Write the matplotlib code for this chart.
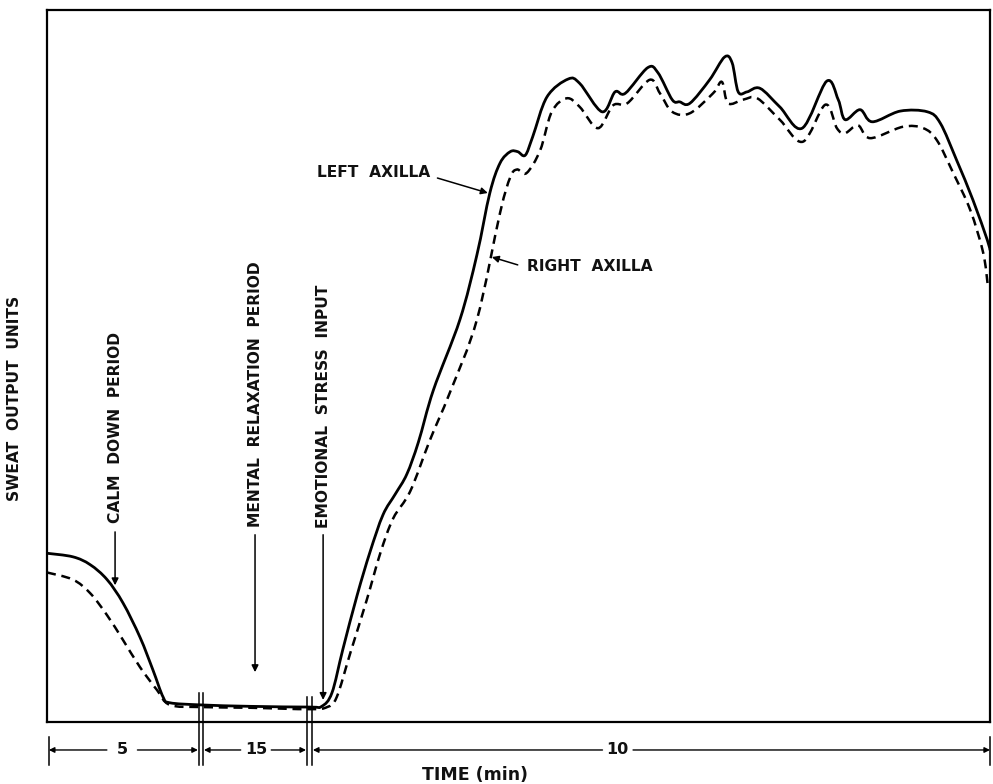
import numpy as np
import matplotlib
matplotlib.use("Agg")
import matplotlib.pyplot as plt
from matplotlib.scale import FuncScale
from matplotlib.path import Path
from matplotlib.patches import PathPatch

# Elapsed time (min) on a broken axis: 5 min calm down, 15 min relaxation, 10 min stress
seg_times = [0, 5, 20, 30]
seg_pos = [0, 154, 262.5, 943]  # relative drawing width of each period

# Left axilla (solid)
left_t = [0, 0.84, 1.40, 1.95, 2.47, 3.02, 3.44, 3.77, 3.99, 5.0, 11.77, 20.0,
          20.18, 20.33, 20.49, 20.70, 20.89, 21.08, 21.26, 21.43, 21.60, 21.82,
          22.21, 22.46, 22.65, 22.80, 22.95, 23.06, 23.17, 23.28, 23.49, 23.80,
          23.97, 24.30, 24.49, 24.64, 24.97, 25.12, 25.33, 25.44, 25.59, 25.88,
          26.10, 26.21, 26.30, 26.43, 26.62, 26.91, 27.24, 27.60, 27.77, 27.87,
          28.09, 28.27, 28.68, 29.08, 29.27, 29.51, 29.75, 29.96, 30.0]
left_v = [23.7, 23.2, 22.1, 20.0, 16.7, 11.9, 7.3, 3.5, 2.7, 2.4, 2.2, 2.1,
          2.2, 4.1, 10.2, 17.8, 23.9, 29.1, 32.0, 34.8, 39.3, 46.6,
          56.5, 65.6, 74.3, 78.5, 80.1, 80.1, 79.6, 82.2, 87.8, 90.3,
          89.7, 85.7, 88.5, 88.3, 91.9, 91.2, 87.4, 87.1, 86.9, 90.2,
          93.4, 92.6, 88.5, 88.5, 89.0, 86.4, 83.4, 90.0, 87.4, 84.6,
          86.0, 84.3, 85.8, 85.7, 84.1, 78.9, 73.3, 67.7, 66.3]

# Right axilla (dashed)
right_t = [0, 0.84, 1.40, 1.95, 2.47, 3.02, 3.57, 3.99, 5.0, 11.77, 20.0,
           20.26, 20.40, 20.60, 20.84, 21.04, 21.23, 21.48, 21.77, 22.06, 22.46,
           22.80, 22.95, 23.05, 23.19, 23.39, 23.56, 23.78, 23.97, 24.24, 24.46,
           24.67, 25.00, 25.15, 25.33, 25.59, 25.93, 26.06, 26.15, 26.37, 26.58,
           26.91, 27.25, 27.58, 27.75, 27.87, 28.06, 28.24, 28.72, 29.02, 29.22,
           29.46, 29.71, 29.90, 29.97]
right_v = [21.0, 20.0, 18.1, 15.0, 11.5, 7.7, 4.5, 2.4, 2.1, 2.0, 1.8,
           2.1, 3.5, 9.7, 17.1, 23.7, 28.6, 32.4, 39.6, 46.2, 56.5,
           71.5, 76.5, 77.6, 77.1, 80.3, 85.7, 87.6, 86.4, 83.4, 86.6,
           86.9, 90.2, 88.3, 85.7, 85.5, 88.3, 89.9, 86.9, 87.4, 87.6,
           84.6, 81.5, 86.7, 83.4, 82.7, 83.8, 82.0, 83.6, 83.4, 81.7,
           77.1, 71.9, 65.9, 61.1]

period_labels = ["5", "15", "10"]
period_label_t = [2.44, 12.6, 24.53]

FONT = ["DejaVu Sans"]


def fwd(t):
    return np.interp(t, seg_times, seg_pos)


def inv(p):
    return np.interp(p, seg_pos, seg_times)


Y_ASPECT = 7.12  # drawing units per y unit, keeps the curve rounding even


def smooth_path(t, v):
    """Bezier path through the readings (Catmull-Rom tangents)."""
    P = np.column_stack([fwd(np.asarray(t, float)), np.asarray(v, float) * Y_ASPECT])
    n = len(P)
    verts = [P[0]]
    codes = [Path.MOVETO]
    for i in range(n - 1):
        p0 = P[max(i - 1, 0)]
        p1 = P[i]
        p2 = P[i + 1]
        p3 = P[min(i + 2, n - 1)]
        verts += [p1 + (p2 - p0) / 6.0, p2 - (p3 - p1) / 6.0, p2]
        codes += [Path.CURVE4] * 3
    V = np.array(verts)
    V[:, 0] = inv(V[:, 0])
    V[:, 1] = V[:, 1] / Y_ASPECT
    return Path(V, codes)


fig = plt.figure(figsize=(9.93, 7.84), dpi=100)
ax = fig.add_axes([47 / 993, 62 / 784, 943 / 993, 712 / 784])
ax.set_xscale(FuncScale(ax, (fwd, inv)))
ax.set_xlim(0, 30)
ax.set_ylim(0, 100)
ax.set_xticks([])
ax.set_yticks([])
for s in ax.spines.values():
    s.set_linewidth(1.6)
    s.set_color("black")

ax.add_patch(PathPatch(smooth_path(left_t, left_v), fill=False, color="black",
                       lw=2.0, joinstyle="round", capstyle="round"))
ax.add_patch(PathPatch(smooth_path(right_t, right_v), fill=False, color="black",
                       lw=1.8, linestyle=(0, (3.6, 2.3))))

txt = dict(family=FONT, fontweight="bold", fontsize=11.2, color="#111111")
arrow = dict(arrowstyle="-|>", color="black", lw=1.1, mutation_scale=10,
             shrinkA=0, shrinkB=0)

# Vertical event labels with arrows
events = [("CALM  DOWN  PERIOD", 2.21, 27.95, 26.7, 19.2),
          ("MENTAL  RELAXATION  PERIOD", 12.47, 27.4, 26.3, 7.0),
          ("EMOTIONAL  STRESS  INPUT", 20.20, 27.3, 26.3, 3.1)]
for label, t, ytxt, y0, y1 in events:
    ax.text(t, ytxt, label, rotation=90, ha="center", va="bottom", **txt)
    ax.annotate("", xy=(t, y1), xytext=(t, y0), arrowprops=arrow)

# Series labels
ax.text(21.77, 77.2, "LEFT  AXILLA", ha="right", va="center", **txt)
ax.annotate("", xy=(22.62, 74.3), xytext=(21.88, 76.4), arrowprops=arrow)
ax.text(23.20, 64.0, "RIGHT  AXILLA", ha="left", va="center", **txt)
ax.annotate("", xy=(22.68, 65.3), xytext=(23.06, 64.2), arrowprops=arrow)

fig.text(15 / 993, 0.4923, "SWEAT  OUTPUT  UNITS", rotation=90,
         ha="center", va="center", **txt)

# Period bar beneath the axis
xt = ax.get_xaxis_transform()
bar_y = -0.0393
seg_ends = [(0.06, 4.90), (5.41, 19.52), (20.05, 30.0)]
num = dict(txt, fontsize=11.5)
for (a, b), lab, tm in zip(seg_ends, period_labels, period_label_t):
    for end in (a, b):
        ax.annotate("", xy=(end, bar_y), xytext=(tm, bar_y), xycoords=xt,
                    textcoords=xt,
                    arrowprops=dict(arrowstyle="-|>", color="black", lw=1.0,
                                    mutation_scale=8, shrinkA=11, shrinkB=0))
    ax.text(tm, bar_y, lab, transform=xt, ha="center", va="center", **num)

# End ticks of the period bar
for t in [0.06, 30.0]:
    ax.plot([t, t], [-0.021, -0.060], transform=xt, color="black", lw=1.1,
            clip_on=False)

# Axis breaks: double bars crossing the bottom of the frame
for t, top in [(4.935, 0.0407), (5.28, 0.0407), (19.65, 0.035), (20.037, 0.035)]:
    ax.plot([t, t], [top, -0.060], transform=xt, color="black", lw=1.1,
            clip_on=False)

fig.text(475 / 993, 0.011, "TIME (min)", ha="center", va="center",
         **dict(txt, fontsize=12.5))

fig.savefig("out.png", dpi=100, facecolor="white")
